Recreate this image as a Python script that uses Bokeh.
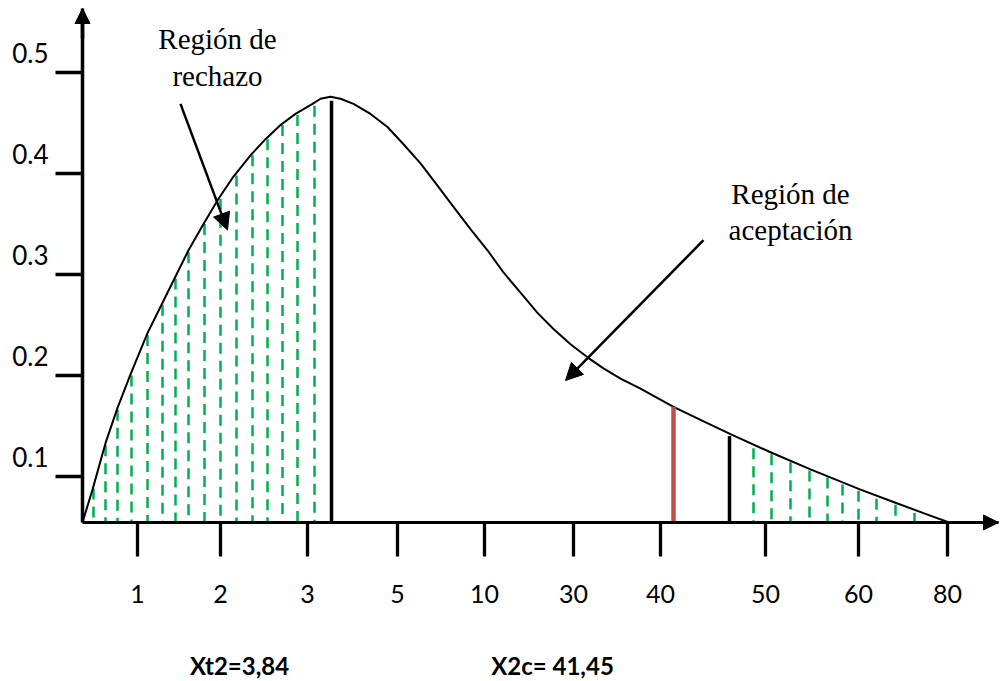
from bokeh.plotting import figure
from bokeh.models import Range1d, LinearAxis, FixedTicker, Arrow, NormalHead
from bokeh.core.properties import value
from bokeh.embed import file_html
from bokeh.resources import INLINE

# ---- data (x: drawing units measured from the y axis, y: density) ----
tick_labels = ["1", "2", "3", "5", "10", "30", "40", "50", "60", "80"]
tick_pos = [55, 138, 225, 315, 402, 491, 578, 683, 776, 865]

y_ticks = [0.1, 0.2, 0.3, 0.4, 0.5]
y_tick_labels = ["0.1", "0.2", "0.3", "0.4", "0.5"]

curve_x = [0, 10, 23, 35, 48, 65, 80, 93, 106, 121, 136, 151, 168, 183, 198,
           213, 230, 238, 248, 258, 271, 288, 305, 321, 338, 355, 371, 388,
           405, 421, 438, 455, 471, 488, 505, 521, 538, 558, 591, 618, 648,
           688, 728, 778, 813, 843, 868]
curve_y = [0.0545, 0.087, 0.133, 0.168, 0.201, 0.242, 0.272, 0.298, 0.324,
           0.350, 0.375, 0.397, 0.418, 0.434, 0.448, 0.459, 0.469, 0.474,
           0.476, 0.474, 0.469, 0.459, 0.446, 0.429, 0.410, 0.388, 0.367,
           0.345, 0.324, 0.302, 0.282, 0.262, 0.246, 0.231, 0.218, 0.207,
           0.197, 0.187, 0.169, 0.156, 0.142, 0.124, 0.107, 0.087, 0.074,
           0.063, 0.054]

left_hatch_x = [11, 23, 35, 49, 65, 80, 93, 106, 122, 138, 154, 170, 185, 200, 215, 232]
left_hatch_top = [0.088, 0.131, 0.166, 0.200, 0.240, 0.270, 0.296, 0.322, 0.350,
                  0.375, 0.398, 0.418, 0.434, 0.448, 0.458, 0.467]
right_hatch_x = [671, 689, 708, 727, 745, 760, 776, 794, 813, 832]
right_hatch_top = [0.128, 0.122, 0.114, 0.106, 0.099, 0.092, 0.086, 0.078, 0.072, 0.064]

xt2_line = (249, 0.472)       # critical value line (table)
x2c_line = (591, 0.169)       # calculated statistic (red)
crit_right_line = (647, 0.140)

bottom_label_pos = [157, 470]
bottom_labels = ["Xt2=3,84", "X2c= 41,45"]
bottom_label_y = -0.087

y_base = 0.0545
y_top = 0.5634
x_end = 916

p = figure(width=1000, height=680, x_range=Range1d(-82, 918),
           y_range=Range1d(-0.102, 0.5713), x_axis_type=None, y_axis_type=None,
           toolbar_location=None, output_backend="svg", min_border=0)
p.outline_line_color = None
p.background_fill_color = "white"
p.border_fill_color = "white"

# y axis, crossing at x = 0 (labels sit just above their tick marks, as in the sketch)
yaxis = LinearAxis(ticker=FixedTicker(ticks=y_ticks), fixed_location=0,
                   bounds=(y_base, y_top),
                   major_label_overrides={t: lab + "\n " for t, lab in zip(y_ticks, y_tick_labels)})
yaxis.axis_line_width = 3.5
yaxis.axis_line_color = "black"
yaxis.major_tick_out = 27
yaxis.major_tick_in = 0
yaxis.major_tick_line_width = 3.5
yaxis.major_tick_line_color = "black"
yaxis.minor_tick_line_color = None
yaxis.major_label_text_font = "Lato"
yaxis.major_label_text_font_size = "26px"
yaxis.major_label_text_color = "black"
yaxis.major_label_standoff = 7
p.add_layout(yaxis, "left")

# x axis on the baseline
xaxis = LinearAxis(ticker=FixedTicker(ticks=tick_pos), fixed_location=y_base,
                   bounds=(0, x_end),
                   major_label_overrides=dict(zip(tick_pos, tick_labels)))
xaxis.axis_line_width = 3
xaxis.axis_line_color = "black"
xaxis.major_tick_out = 34
xaxis.major_tick_in = 0
xaxis.major_tick_line_width = 3.3
xaxis.major_tick_line_color = "black"
xaxis.minor_tick_line_color = None
xaxis.major_label_text_font = "Lato"
xaxis.major_label_text_font_size = "25px"
xaxis.major_label_text_color = "black"
xaxis.major_label_standoff = 29
p.add_layout(xaxis, "below")

# hatching (rejection regions)
p.segment(x0=left_hatch_x, y0=left_hatch_top, x1=left_hatch_x,
          y1=[y_base] * len(left_hatch_x), line_color="#00B050",
          line_width=2.5, line_dash="11 7")
p.segment(x0=right_hatch_x, y0=right_hatch_top, x1=right_hatch_x,
          y1=[y_base] * len(right_hatch_x), line_color="#00B050",
          line_width=2.5, line_dash="11 7")

# density curve
p.line(curve_x, curve_y, line_color="black", line_width=2, line_join="round")

# vertical markers
p.segment(x0=[xt2_line[0]], y0=[xt2_line[1]], x1=[xt2_line[0]], y1=[y_base],
          line_color="black", line_width=3.5)
p.segment(x0=[x2c_line[0]], y0=[x2c_line[1]], x1=[x2c_line[0]], y1=[y_base],
          line_color="#C0504D", line_width=4.5)
p.segment(x0=[crit_right_line[0]], y0=[crit_right_line[1]], x1=[crit_right_line[0]],
          y1=[y_base], line_color="black", line_width=3.5)

# axis arrowheads
p.add_layout(Arrow(end=NormalHead(size=15, fill_color="black", line_color="black"),
                   x_start=0, y_start=y_top - 0.03, x_end=0, y_end=y_top,
                   line_color="black", line_width=3.5))
p.add_layout(Arrow(end=NormalHead(size=15, fill_color="black", line_color="black"),
                   x_start=x_end - 30, y_start=y_base, x_end=x_end, y_end=y_base,
                   line_color="black", line_width=3))

# pointer arrows
p.add_layout(Arrow(end=NormalHead(size=17, fill_color="black", line_color="black"),
                   x_start=98, y_start=0.469, x_end=145, y_end=0.344,
                   line_color="black", line_width=2.5))
p.add_layout(Arrow(end=NormalHead(size=17, fill_color="black", line_color="black"),
                   x_start=621, y_start=0.334, x_end=483, y_end=0.195,
                   line_color="black", line_width=2.5))

# region labels
p.text(x=[135, 135], y=[0.533, 0.497], text=["Región de", "rechazo"],
       text_font=value("Liberation Serif"), text_font_size="29px",
       text_align="center", text_baseline="alphabetic", text_color="black")
p.text(x=[708, 708], y=[0.380, 0.344], text=["Región de", "aceptación"],
       text_font=value("Liberation Serif"), text_font_size="29px",
       text_align="center", text_baseline="alphabetic", text_color="black")

# bold values under the axis
p.text(x=bottom_label_pos, y=[bottom_label_y] * len(bottom_label_pos), text=bottom_labels,
       text_font=value("Lato"), text_font_style="bold", text_font_size="24px",
       text_align="center", text_baseline="middle", text_color="black")

open("out.html", "w").write(file_html(p, INLINE))
